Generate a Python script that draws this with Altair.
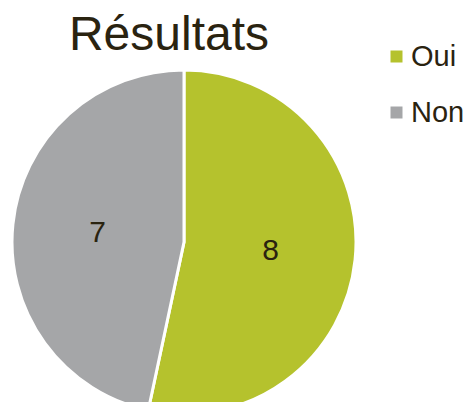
import altair as alt
import pandas as pd

title_text = "Résultats"
categories = ["Oui", "Non"]
values = [8, 7]
colors = ["#b5c22d", "#a5a6a8"]
order = [0, 1]

df = pd.DataFrame({"cat": categories, "val": values, "ord": order})

TEXT = "#2a2310"
FONT = "Liberation Sans"

base = alt.Chart(df).encode(
    theta=alt.Theta("val:Q", stack=True),
    order=alt.Order("ord:Q"),
)

arc = base.mark_arc(outerRadius=172, stroke="white", strokeWidth=3).encode(
    x=alt.value(176),
    y=alt.value(174),
    color=alt.Color(
        "cat:N",
        scale=alt.Scale(domain=categories, range=colors),
        legend=alt.Legend(
            title=None,
            orient="none",
            legendX=374,
            legendY=-26,
            symbolType="square",
            symbolSize=144,
            symbolStrokeWidth=0,
            labelFontSize=29,
            labelFont=FONT,
            labelColor=TEXT,
            labelOffset=0,
            rowPadding=26,
            padding=0,
        ),
    ),
)

labels = base.mark_text(radius=87, fontSize=30, font=FONT, color=TEXT).encode(
    x=alt.value(176),
    y=alt.value(174),
    text="val:Q",
)

title = (
    alt.Chart(pd.DataFrame({"t": [title_text]}))
    .mark_text(fontSize=48, font=FONT, color=TEXT, align="center", baseline="alphabetic")
    .encode(text="t:N", x=alt.value(161), y=alt.value(-18))
)

chart = (
    alt.layer(arc, labels, title)
    .properties(
        width=459,
        height=334,
        padding={"left": 0, "top": 60, "right": 0, "bottom": 0},
        autosize=alt.AutoSizeParams(type="none"),
        background="white",
    )
    .configure_view(stroke=None)
)

chart.save("out.html", embed_options={"renderer": "svg", "actions": False})
